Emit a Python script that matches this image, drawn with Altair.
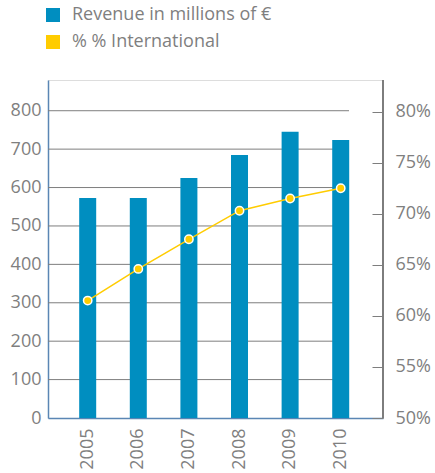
import altair as alt
import pandas as pd

years = ["2005", "2006", "2007", "2008", "2009", "2010"]
revenue = [573, 573, 625, 685, 745, 724]
international = [61.5, 64.6, 67.5, 70.3, 71.5, 72.5]
left_ticks = [0, 100, 200, 300, 400, 500, 600, 700, 800]
grid_values = [100, 200, 300, 400, 500, 600, 700, 800]
right_ticks = [50, 55, 60, 65, 70, 75, 80]
series_names = ["Revenue in millions of €", "% % International"]

BLUE = "#008EC0"
YELLOW = "#FFCC00"
AXIS_BLUE = "#5A86B4"
GRAY = "#7E7E7E"
LABEL = "#7F7F7F"
FONT = "Open Sans"

W, H = 335, 338

df = pd.DataFrame({"year": years, "revenue": revenue, "intl": international,
                   "series": [series_names[0]] * len(years)})
grid_df = pd.DataFrame({"v": grid_values})

xscale = alt.Scale(paddingInner=0.66, paddingOuter=0.64, align=0.48)
yleft = alt.Scale(domain=[0, 880], nice=False)
yright = alt.Scale(domain=[50, 83.1], nice=False)

left_axis = alt.Axis(values=left_ticks, ticks=False, grid=False,
                     domainColor=AXIS_BLUE, domainWidth=1.5,
                     labelColor=LABEL, labelFont=FONT, labelFontSize=18,
                     labelPadding=7)

grid = alt.Chart(grid_df).mark_rule(color=GRAY, strokeWidth=1).encode(
    y=alt.Y("v:Q", scale=yleft, title=None, axis=left_axis),
    x=alt.value(0), x2=alt.value(301),
)

bars = alt.Chart(df).mark_bar(size=17).encode(
    x=alt.X("year:N", scale=xscale, title=None,
            axis=alt.Axis(labelAngle=-90, ticks=False, domainColor=AXIS_BLUE,
                          domainWidth=1.5, labelColor=LABEL, labelFont=FONT,
                          labelFontSize=18, labelPadding=10)),
    y=alt.Y("revenue:Q", scale=yleft, title=None, axis=left_axis),
    color=alt.Color("series:N",
                    scale=alt.Scale(domain=series_names, range=[BLUE, YELLOW]),
                    legend=alt.Legend(title=None, orient="none", legendX=-4,
                                      legendY=-74, symbolType="square",
                                      symbolSize=196, symbolStrokeWidth=0,
                                      labelFont=FONT, labelFontSize=18,
                                      labelColor=LABEL, labelOffset=10,
                                      labelLimit=400,
                                      rowPadding=9, padding=0)),
)

left = alt.layer(grid, bars)

line = alt.Chart(df).mark_line(color=YELLOW, strokeWidth=1.5).encode(
    x=alt.X("year:N", scale=xscale),
    y=alt.Y("intl:Q", scale=yright, title=None,
            axis=alt.Axis(orient="right", values=right_ticks, offset=-11,
                          domain=False, tickSize=11, tickColor=GRAY,
                          grid=False, labelColor=LABEL, labelFont=FONT,
                          labelFontSize=18, labelPadding=12,
                          labelExpr="datum.value + '%'")),
)
points = alt.Chart(df).mark_point(filled=True, fill=YELLOW, stroke="white",
                                  strokeWidth=1.5, size=70, opacity=1).encode(
    x=alt.X("year:N", scale=xscale),
    y=alt.Y("intl:Q", scale=yright),
)
right_line = alt.Chart(df).mark_rule(color=GRAY, strokeWidth=1.5).encode(
    x=alt.value(W), y=alt.value(0), y2=alt.value(H),
)
right = alt.layer(right_line, line, points)

chart = alt.layer(left, right).resolve_scale(y="independent").properties(
    width=W, height=H,
    padding={"left": 48, "top": 80, "right": 52, "bottom": 55},
    autosize=alt.AutoSizeParams(type="none"),
).configure_view(stroke=None).configure(background="white")

chart.save("out.html", embed_options={"renderer": "svg", "actions": False})
